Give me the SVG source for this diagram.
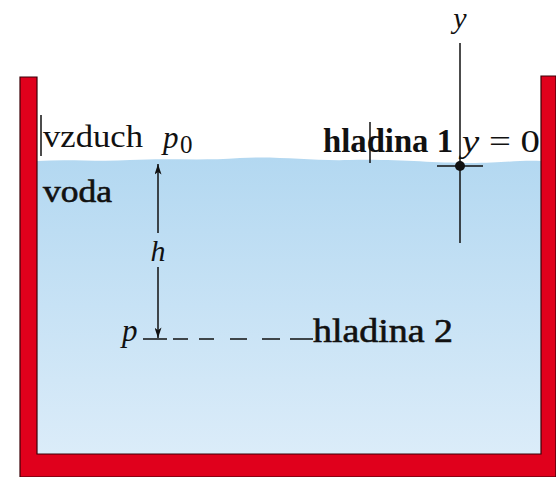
<svg xmlns="http://www.w3.org/2000/svg" width="556" height="477" viewBox="0 0 556 477">
<defs>
<linearGradient id="water" x1="0" y1="0" x2="0" y2="1">
<stop offset="0" stop-color="#b3d8f1"/>
<stop offset="1" stop-color="#dbecf9"/>
</linearGradient>
<marker id="ah" viewBox="0 0 12 8" refX="12" refY="4" markerWidth="12" markerHeight="7" orient="auto" markerUnits="userSpaceOnUse">
<path d="M0,0 L12,4 L0,8 L3,4 Z" fill="#111"/>
</marker>
<style>
.serif{font-family:"Liberation Serif","DejaVu Serif",serif;fill:#111}
.it{font-style:italic}
.b{font-weight:bold}
.semi{stroke:#111;stroke-width:0.6}
.ln{stroke:#111;stroke-width:1.5;fill:none}
</style>
</defs>
<rect width="556" height="477" fill="#fff"/>
<g id="water-body">
<path d="M37,161 C70,159 100,162 130,160 C170,158 200,161 240,158 C280,156 310,161 350,160 C400,159 430,163 470,163 C500,163 520,160 541,161 V454 H37 Z" fill="url(#water)"/>
</g>
<g id="vessel">
<path d="M20,77 H37 V454 H541 V76 H556 V477 H20 Z" fill="#e0001c" stroke="#3a0008" stroke-width="1.2"/>
</g>
<g id="connectors">
<line class="ln" x1="158" y1="233" x2="158" y2="164" marker-end="url(#ah)"/>
<line class="ln" x1="158" y1="267" x2="158" y2="338" marker-end="url(#ah)"/>
<path class="ln" d="M143,339 H167 M173,339 H188 M199,339 H214 M230,339 H247 M262,339 H280 M290,339 H313" stroke-width="1.7"/>
<line class="ln" x1="460" y1="43" x2="460" y2="243"/>
<line class="ln" x1="437" y1="166" x2="483" y2="166"/>
<circle cx="460" cy="166" r="5" fill="#111"/>
<line class="ln" x1="41" y1="115" x2="41" y2="156" stroke-width="1.2"/>
<line class="ln" x1="370" y1="122" x2="370" y2="163" stroke-width="1.2"/>
</g>
<g id="label-vzduch"><text class="serif" x="43" y="147" font-size="32" textLength="100" lengthAdjust="spacingAndGlyphs">vzduch</text></g>
<g id="label-p0"><text class="serif it" x="163" y="148" font-size="31">p</text><text class="serif" x="180" y="153" font-size="25">0</text></g>
<g id="label-voda"><text class="serif semi" x="43" y="202" font-size="31" textLength="69" lengthAdjust="spacingAndGlyphs">voda</text></g>
<g id="label-h"><text class="serif it" x="158" y="261" font-size="30" text-anchor="middle">h</text></g>
<g id="label-p"><text class="serif it" x="122" y="341" font-size="31">p</text></g>
<g id="label-hladina1"><text class="serif b" x="323" y="152" font-size="33" textLength="130" lengthAdjust="spacingAndGlyphs">hladina 1</text></g>
<g id="label-y0"><text class="serif" x="462" y="152" font-size="32" textLength="78" lengthAdjust="spacingAndGlyphs"><tspan class="it">y</tspan> = 0</text></g>
<g id="label-y"><text class="serif it" x="460" y="28" font-size="30" text-anchor="middle">y</text></g>
<g id="label-hladina2"><text class="serif semi" x="313" y="342" font-size="34" textLength="140" lengthAdjust="spacingAndGlyphs">hladina 2</text></g>
</svg>
